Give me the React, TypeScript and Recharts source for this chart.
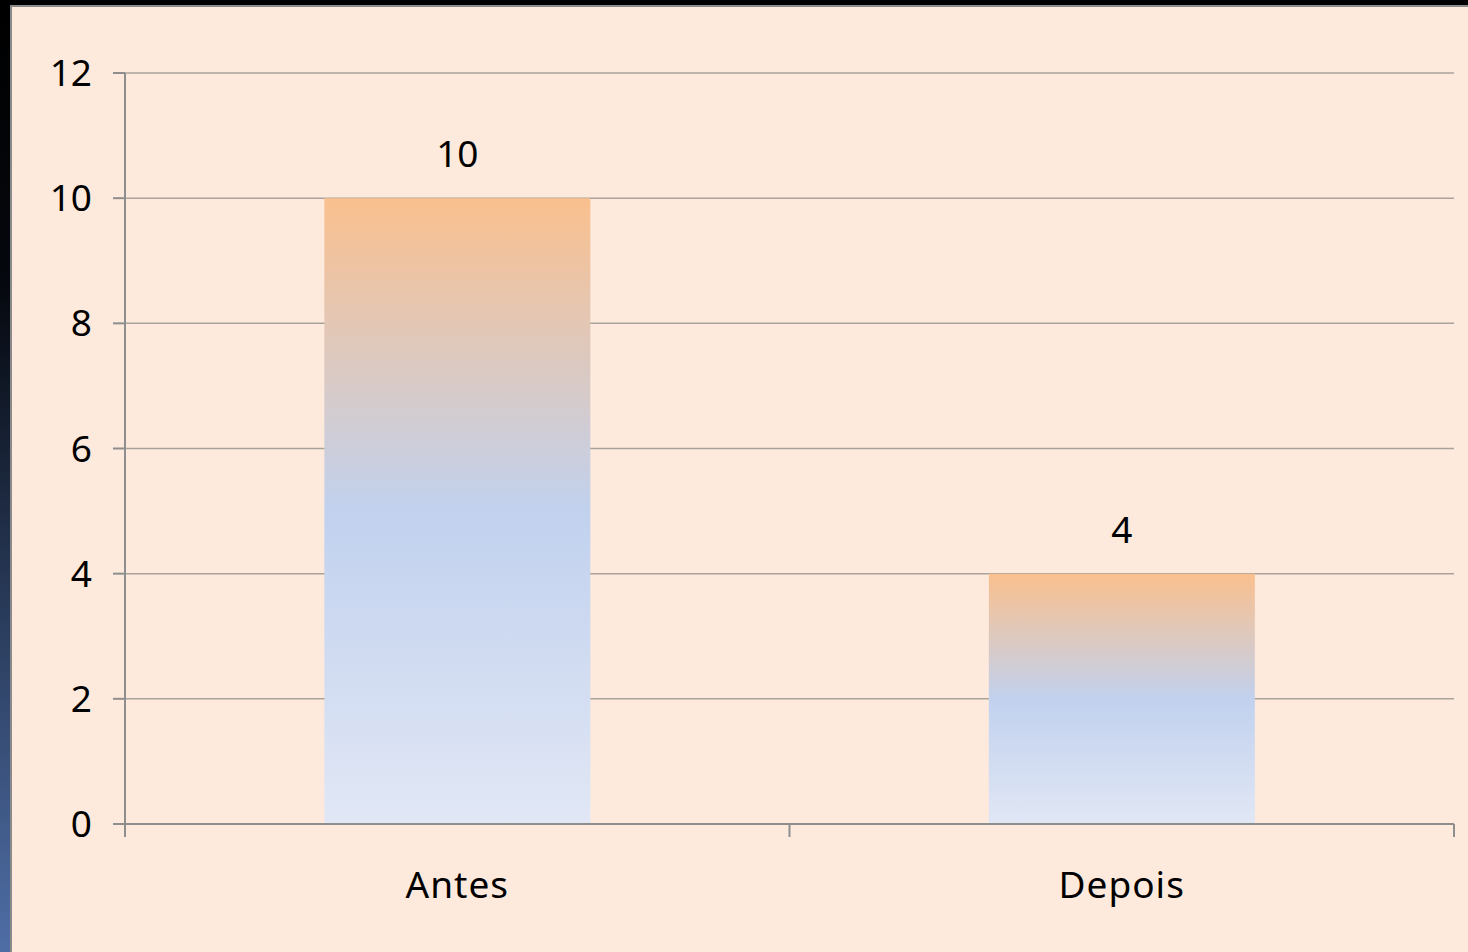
import { BarChart, Bar, XAxis, YAxis, CartesianGrid, LabelList } from "recharts"

const categories = ["Antes", "Depois"]
const values = [10, 4]
const yTicks = [0, 2, 4, 6, 8, 10, 12]

const chartData = categories.map((name, i) => ({ name, valor: values[i] }))

const FONT = "'Noto Sans', 'Open Sans', sans-serif"
const AXIS = "#8e8e8e"

// category labels plus tick marks at the band edges (like the original)
function CategoryTick(props: any) {
  const { x, y, payload, index } = props
  const half = payload?.offset ?? 0
  return (
    <g>
      <line x1={x - half} x2={x - half} y1={y} y2={y + 13} stroke={AXIS} strokeWidth={2} />
      {index === categories.length - 1 && (
        <line x1={x + half} x2={x + half} y1={y} y2={y + 13} stroke={AXIS} strokeWidth={2} />
      )}
      <text x={x} y={y + 48} dy="0.71em" textAnchor="middle" fill="#000" fontSize={37} fontFamily={FONT} letterSpacing={1}>
        {payload.value}
      </text>
    </g>
  )
}

export default function App() {
  return (
    <div
      style={{
        position: "absolute",
        left: 0,
        top: 0,
        width: 1468,
        height: 952,
        overflow: "hidden",
        background: "linear-gradient(to bottom, #000000 0%, #05080e 30%, #2a3c5c 65%, #4f6ea6 100%)",
      }}
    >
      <div
        style={{
          position: "absolute",
          left: 10,
          top: 5,
          width: 1458,
          height: 947,
          background: "#fdeadc",
          borderLeft: "2px solid #8a8a8a",
          borderTop: "2px solid #8a8a8a",
          boxSizing: "border-box",
        }}
      />
      <div style={{ position: "absolute", left: 0, top: 0 }}>
        <BarChart
          width={1468}
          height={952}
          data={chartData}
          margin={{ top: 73, right: 14, left: 0, bottom: 0 }}
          barCategoryGap="30%"
        >
          <defs>
            <linearGradient id="barGrad" x1="0" y1="0" x2="0" y2="1">
              <stop offset="0%" stopColor="#fac08e" />
              <stop offset="50%" stopColor="#c1d1ee" />
              <stop offset="100%" stopColor="#e1e7f5" />
            </linearGradient>
          </defs>
          <CartesianGrid vertical={false} stroke="#aaa39c" strokeWidth={1.5} />
          <XAxis
            dataKey="name"
            height={128}
            stroke={AXIS}
            strokeWidth={2}
            tickLine={false}
            tickSize={0}
            tickMargin={0}
            tick={<CategoryTick />}
            interval={0}
          />
          <YAxis
            width={125}
            domain={[0, 12]}
            ticks={yTicks}
            stroke={AXIS}
            strokeWidth={2}
            tickSize={12}
            tickMargin={21}
            tick={{ fill: "#000", fontSize: 37, fontFamily: FONT }}
          />
          <Bar dataKey="valor" fill="url(#barGrad)" isAnimationActive={false}>
            <LabelList dataKey="valor" position="top" offset={31} fill="#000" fontSize={37} fontFamily={FONT} />
          </Bar>
        </BarChart>
      </div>
    </div>
  )
}
